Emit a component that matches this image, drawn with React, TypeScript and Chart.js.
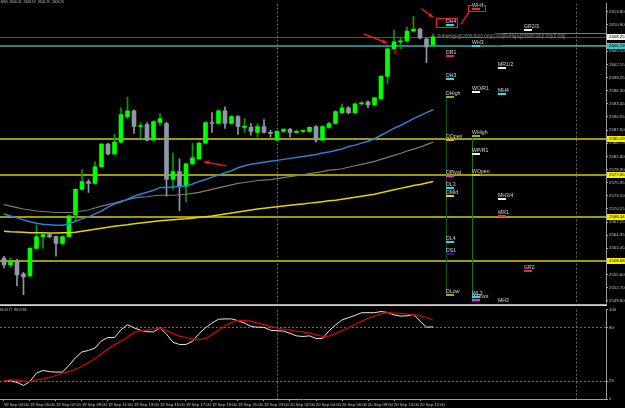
import { useEffect, useRef } from 'react';
import { Chart, registerables } from 'chart.js';

Chart.register(...registerables);

// ---------------- data ----------------
const SYMBOL_TITLE = ',M30  2606.41  2608.92  2606.25  2608.25';
const STOCH_TITLE = '80.6717  88.3783';

const TIME_LABELS = [
  '19 Sep 03:00', '19 Sep 05:00', '19 Sep 07:00', '19 Sep 09:00', '19 Sep 11:00', '19 Sep 13:00',
  '19 Sep 15:00', '19 Sep 17:00', '19 Sep 19:00', '19 Sep 21:00', '19 Sep 23:00', '20 Sep 02:00',
  '20 Sep 04:00', '20 Sep 06:00', '20 Sep 08:00', '20 Sep 10:00', '20 Sep 12:00',
];
const TIME_LABEL_BARS = [0, 4, 8, 12, 16, 20, 24, 28, 32, 36, 40, 44, 48, 52, 56, 60, 64];
const DAY_SEPARATOR_BARS = [42, 88];

const OPEN = [
  2559.27, 2557.75, 2558.62, 2555.79, 2555.35, 2561.44, 2564.05, 2564.49, 2564.05, 2562.53,
  2564.05, 2568.84, 2574.49, 2576.23, 2575.80, 2579.50, 2584.50, 2582.32, 2584.93, 2590.59,
  2591.89, 2588.41, 2588.85, 2585.37, 2589.28, 2589.07, 2576.67, 2578.41, 2575.15, 2580.15,
  2581.24, 2584.72, 2589.28, 2589.07, 2591.89, 2589.07, 2590.59, 2588.20, 2588.20, 2587.11,
  2588.41, 2587.11, 2585.37, 2587.33, 2587.76, 2587.11, 2587.33, 2587.33, 2588.41, 2585.37,
  2588.20, 2589.07, 2591.46, 2592.55, 2591.46, 2593.42, 2593.85, 2593.20, 2594.50, 2599.51,
  2605.60, 2607.12, 2607.34, 2609.51, 2609.95, 2607.77, 2606.41,
];
const HIGH = [
  2559.70, 2559.27, 2559.05, 2556.20, 2561.60, 2566.66, 2564.60, 2564.70, 2564.20, 2564.20,
  2568.80, 2574.60, 2578.84, 2576.67, 2580.58, 2584.70, 2584.70, 2586.67, 2592.55, 2594.94,
  2592.10, 2589.28, 2589.28, 2589.70, 2591.24, 2589.30, 2582.54, 2581.24, 2580.30, 2584.72,
  2584.90, 2589.50, 2591.46, 2592.10, 2592.76, 2590.80, 2590.80, 2590.15, 2589.07, 2589.07,
  2589.94, 2587.55, 2587.50, 2588.00, 2588.00, 2587.60, 2587.60, 2588.40, 2588.60, 2588.60,
  2589.30, 2591.90, 2593.40, 2592.80, 2593.60, 2593.90, 2594.10, 2594.90, 2599.70, 2605.80,
  2609.73, 2608.20, 2610.38, 2612.78, 2610.20, 2608.00, 2608.92,
];
const LOW = [
  2557.09, 2557.30, 2553.18, 2551.22, 2555.20, 2561.30, 2561.44, 2563.80, 2559.70, 2562.20,
  2563.90, 2567.53, 2574.30, 2573.84, 2575.60, 2579.30, 2582.10, 2582.10, 2584.70, 2590.15,
  2586.89, 2585.80, 2585.20, 2585.20, 2588.63, 2572.97, 2574.49, 2569.71, 2571.67, 2580.00,
  2581.10, 2584.50, 2587.11, 2588.90, 2587.98, 2588.90, 2586.67, 2587.11, 2586.46, 2586.02,
  2586.90, 2586.02, 2585.20, 2587.10, 2586.02, 2586.90, 2587.10, 2587.10, 2584.93, 2585.20,
  2588.00, 2588.90, 2591.30, 2591.20, 2591.20, 2593.20, 2592.55, 2593.00, 2594.30, 2597.77,
  2605.40, 2605.60, 2607.10, 2609.30, 2607.80, 2602.55, 2606.25,
];
const CLOSE = [
  2557.75, 2558.62, 2555.57, 2555.14, 2561.44, 2564.05, 2564.49, 2564.05, 2562.53, 2564.05,
  2568.62, 2574.49, 2576.23, 2575.80, 2579.50, 2584.50, 2582.32, 2584.93, 2591.02, 2591.89,
  2588.41, 2588.63, 2585.37, 2589.50, 2590.15, 2576.67, 2578.41, 2575.15, 2580.15, 2581.45,
  2584.72, 2589.28, 2589.07, 2591.89, 2589.07, 2590.59, 2588.41, 2588.41, 2587.33, 2588.41,
  2587.11, 2586.89, 2587.33, 2587.76, 2587.11, 2587.33, 2587.40, 2588.20, 2585.37, 2588.41,
  2589.07, 2591.68, 2592.55, 2591.46, 2593.42, 2593.63, 2593.20, 2594.72, 2599.51, 2605.60,
  2607.12, 2607.34, 2609.51, 2609.95, 2607.99, 2606.03, 2608.25,
];

const MA_BLUE = [
  2569.06, 2568.62, 2568.19, 2567.75, 2567.32, 2566.99, 2566.77, 2566.66, 2566.56, 2566.56,
  2566.88, 2567.43, 2567.97, 2568.40, 2569.06, 2569.71, 2570.58, 2571.23, 2571.67, 2572.32,
  2572.97, 2573.41, 2573.84, 2574.28, 2574.93, 2574.93, 2575.04, 2575.15, 2575.26, 2575.69,
  2576.23, 2576.67, 2577.21, 2577.65, 2578.19, 2578.63, 2579.28, 2579.72, 2580.04, 2580.26,
  2580.48, 2580.69, 2580.91, 2581.13, 2581.35, 2581.56, 2581.78, 2582.00, 2582.22, 2582.54,
  2582.76, 2583.09, 2583.41, 2583.96, 2584.28, 2584.72, 2585.15, 2585.70, 2586.46, 2587.22,
  2587.98, 2588.63, 2589.39, 2590.15, 2590.81, 2591.46, 2592.11,
];
const MA_GRAY = [
  2571.12, 2570.80, 2570.47, 2570.15, 2569.93, 2569.71, 2569.60, 2569.49, 2569.38, 2569.38,
  2569.38, 2569.49, 2569.71, 2569.93, 2570.36, 2570.80, 2571.12, 2571.45, 2571.89, 2572.21,
  2572.54, 2572.76, 2572.86, 2573.08, 2573.19, 2573.19, 2573.19, 2573.30, 2573.41, 2573.62,
  2573.84, 2574.17, 2574.49, 2574.82, 2575.15, 2575.47, 2575.80, 2576.02, 2576.23, 2576.45,
  2576.56, 2576.67, 2576.89, 2577.11, 2577.32, 2577.54, 2577.76, 2577.98, 2578.19, 2578.41,
  2578.74, 2578.84, 2579.06, 2579.39, 2579.72, 2580.04, 2580.37, 2580.69, 2581.13, 2581.56,
  2582.00, 2582.43, 2582.98, 2583.41, 2583.85, 2584.39, 2584.94,
];
const MA_YELLOW = [
  2565.25, 2565.14, 2565.08, 2565.01, 2564.92, 2564.92, 2564.88, 2564.86, 2564.86, 2564.88,
  2564.92, 2565.03, 2565.25, 2565.47, 2565.69, 2565.90, 2566.12, 2566.34, 2566.49, 2566.66,
  2566.88, 2567.03, 2567.21, 2567.38, 2567.53, 2567.64, 2567.75, 2567.86, 2567.97, 2568.12,
  2568.30, 2568.45, 2568.62, 2568.84, 2569.06, 2569.27, 2569.49, 2569.71, 2569.93, 2570.15,
  2570.32, 2570.47, 2570.64, 2570.80, 2570.97, 2571.12, 2571.28, 2571.45, 2571.60, 2571.78,
  2571.95, 2572.10, 2572.32, 2572.54, 2572.76, 2572.97, 2573.19, 2573.41, 2573.73, 2574.06,
  2574.39, 2574.71, 2575.04, 2575.37, 2575.58, 2575.91, 2576.23,
];

const STOCH_MAIN = [
  20.4, 20.4, 18.6, 15.1, 19.7, 29.0, 31.9, 30.6, 30.1, 30.1,
  37.6, 46.2, 52.7, 54.3, 57.0, 65.1, 68.8, 68.8, 77.4, 83.1,
  79.6, 76.9, 75.3, 75.0, 79.6, 72.6, 63.4, 61.0, 61.0, 64.5,
  73.1, 79.6, 84.9, 89.2, 89.5, 89.6, 87.6, 84.9, 81.2, 80.3,
  80.1, 76.9, 76.3, 76.0, 73.4, 70.6, 69.9, 70.6, 67.7, 67.7,
  76.3, 82.8, 88.5, 90.9, 93.5, 96.5, 96.5, 96.5, 97.8, 96.8,
  94.1, 92.7, 93.0, 94.6, 87.1, 80.3, 80.67,
];
const STOCH_SIGNAL = [
  20.4, 21.5, 21.0, 19.9, 19.4, 21.5, 22.6, 24.2, 26.3, 28.5,
  30.6, 33.3, 36.6, 40.9, 45.2, 50.5, 55.9, 60.8, 64.5, 69.4,
  74.2, 76.3, 77.4, 78.3, 79.0, 76.9, 73.1, 70.4, 68.8, 67.2,
  66.3, 67.7, 72.0, 76.9, 81.7, 85.5, 87.6, 87.6, 87.1, 84.9,
  83.1, 81.2, 79.6, 78.0, 77.1, 75.8, 75.0, 73.7, 72.0, 69.9,
  70.4, 73.1, 76.3, 79.6, 83.3, 86.8, 90.3, 92.8, 95.2, 96.5,
  96.2, 95.7, 95.2, 94.1, 93.0, 91.1, 88.38,
];

const PRICE_TICKS = [
  2613.80, 2610.90, 2608.00, 2605.10, 2602.15, 2599.25, 2596.30, 2593.45, 2590.55, 2587.60,
  2584.70, 2581.80, 2578.90, 2575.95, 2573.10, 2570.15, 2567.25, 2564.35, 2561.45, 2558.55,
  2555.60, 2552.70, 2549.80,
];
const STOCH_TICKS = [0, 20, 80, 100];
const STOCH_LEVELS = [20, 80];

const BID_PRICE = 2608.25;
const WEEK_LEVEL = 2606.19;
const YELLOW_LEVELS = [2585.59, 2577.65, 2568.34, 2558.68];
const ORANGE_LEVELS = [2609.08, 2606.47];
const ORANGE_START_BAR = 75.6;

const TAG_NAMES = [
  'WH4', 'DH4', 'GR2/3', 'WH3', 'DR1', 'MR1/2', 'DH3', 'WO/R1', 'MH4', 'DHigh',
  'WHigh', 'DOpen', 'WP/R1', 'DPivot', 'WOpen', 'DL3', 'DMid', 'MH3/4', 'MR1', 'DL4',
  'DS1', 'GR2', 'DLow', 'WPivot', 'WL3', 'MH3',
];
const TAG_BARS = [
  72, 68, 80, 72, 68, 76, 68, 72, 76, 68,
  72, 68, 72, 68, 72, 68, 68, 76, 76, 68,
  68, 80, 68, 72, 72, 76,
];
const TAG_PRICES = [
  2614.41, 2610.82, 2609.84, 2606.14, 2604.07, 2601.36, 2598.86, 2596.03, 2595.59, 2594.94,
  2586.24, 2585.37, 2582.22, 2577.54, 2577.65, 2574.82, 2572.97, 2572.32, 2568.62, 2562.75,
  2560.25, 2556.44, 2551.12, 2550.03, 2550.57, 2549.20,
];
const TAG_COLORS = [
  '#ff2020', '#20e0f0', '#f0f0f0', '#20e0f0', '#ff2020', '#f0f0f0', '#20e0f0', '#f0f0f0', '#20e0f0', '#8fb030',
  '#8fb030', '#f0b000', '#f0f0f0', '#ff20ff', '#f0b000', '#20e0f0', '#f0e000', '#f0f0f0', '#ff3010', '#20e0f0',
  '#1020b0', '#ff2020', '#8fb030', '#ff20ff', '#20e0f0', 'rgba(0,0,0,0)',
];

// day/week range verticals: bar, top price, bottom price
const RANGE_BARS = [68, 72];
const RANGE_TOPS = [2594.94, 2586.24];
const RANGE_BOTTOMS = [2551.12, 2549.48];

// annotation arrows (bar, price) -> (bar, price)
const ARROW_FROM_BAR = [55.4, 34.2, 64.2];
const ARROW_FROM_PRICE = [2608.86, 2579.71, 2614.5];
const ARROW_TO_BAR = [58.9, 30.8, 66.0];
const ARROW_TO_PRICE = [2606.90, 2580.58, 2612.56];
// boxes (bar range, price range)
const BOX_BAR_A = [66.5, 71.4];
const BOX_BAR_B = [69.7, 74.0];
const BOX_PRICE_A = [2612.34, 2615.38];
const BOX_PRICE_B = [2610.38, 2613.86];

const BAR_MIN = -0.615;
const BAR_MAX = 92.615;
const PRICE_MIN = 2549.48;
const PRICE_MAX = 2615.60;

const FONT = '"Liberation Sans", Arial, sans-serif';

// ---------------- helpers ----------------
function arrowHead(ctx: CanvasRenderingContext2D, x0: number, y0: number, x1: number, y1: number) {
  const ang = Math.atan2(y1 - y0, x1 - x0);
  const len = 5;
  ctx.beginPath();
  ctx.moveTo(x1, y1);
  ctx.lineTo(x1 - len * Math.cos(ang - 0.45), y1 - len * Math.sin(ang - 0.45));
  ctx.lineTo(x1 - len * Math.cos(ang + 0.45), y1 - len * Math.sin(ang + 0.45));
  ctx.closePath();
  ctx.fill();
}

function priceBox(ctx: CanvasRenderingContext2D, yPix: number, bg: string, text: string, left: number) {
  ctx.fillStyle = bg;
  ctx.fillRect(left + 1, Math.round(yPix) - 3, 18, 6);
  ctx.fillStyle = '#000000';
  ctx.font = `4.3px ${FONT}`;
  ctx.textBaseline = 'middle';
  ctx.textAlign = 'left';
  ctx.fillText(text, left + 3, Math.round(yPix));
}

const mainOverlay = {
  id: 'mainOverlay',
  beforeDraw(chart: any) {
    const ctx = chart.ctx as CanvasRenderingContext2D;
    ctx.save();
    ctx.fillStyle = '#000000';
    ctx.fillRect(0, 0, chart.width, chart.height);
    ctx.restore();
  },
  beforeDatasetsDraw(chart: any) {
    const ctx = chart.ctx as CanvasRenderingContext2D;
    const a = chart.chartArea;
    const x = chart.scales.x;
    const y = chart.scales.y;
    ctx.save();
    ctx.beginPath();
    ctx.rect(a.left, a.top, a.right - a.left, a.bottom - a.top);
    ctx.clip();

    // day separators
    ctx.strokeStyle = '#6a6a6a';
    ctx.lineWidth = 1;
    ctx.setLineDash([2, 2]);
    DAY_SEPARATOR_BARS.forEach((b) => {
      const px = Math.round(x.getPixelForValue(b)) + 0.5;
      ctx.beginPath();
      ctx.moveTo(px, a.top);
      ctx.lineTo(px, a.bottom);
      ctx.stroke();
    });
    ctx.setLineDash([]);

    // yellow levels
    ctx.strokeStyle = '#a09c00';
    ctx.lineWidth = 2;
    YELLOW_LEVELS.forEach((p) => {
      const py = Math.round(y.getPixelForValue(p));
      ctx.beginPath();
      ctx.moveTo(a.left, py);
      ctx.lineTo(a.right, py);
      ctx.stroke();
    });

    // bid line
    ctx.strokeStyle = '#4c5260';
    ctx.lineWidth = 1;
    let py = Math.round(y.getPixelForValue(BID_PRICE)) + 0.5;
    ctx.beginPath();
    ctx.moveTo(a.left, py);
    ctx.lineTo(a.right, py);
    ctx.stroke();

    // weekly teal line
    ctx.strokeStyle = '#1f8585';
    ctx.lineWidth = 2;
    py = Math.round(y.getPixelForValue(WEEK_LEVEL));
    ctx.beginPath();
    ctx.moveTo(a.left, py);
    ctx.lineTo(a.right, py);
    ctx.stroke();

    // orange partial levels
    const ox = x.getPixelForValue(ORANGE_START_BAR);
    ORANGE_LEVELS.forEach((p) => {
      const yy = Math.round(y.getPixelForValue(p)) + 0.5;
      ctx.strokeStyle = '#c0691e';
      ctx.lineWidth = 1;
      ctx.beginPath();
      ctx.moveTo(ox, yy);
      ctx.lineTo(a.right, yy);
      ctx.stroke();
      ctx.strokeStyle = '#7a2ea8';
      ctx.beginPath();
      ctx.moveTo(ox, yy);
      ctx.lineTo(ox + 6, yy);
      ctx.stroke();
    });

    // range verticals
    RANGE_BARS.forEach((b, k) => {
      const px = Math.round(x.getPixelForValue(b)) + 0.5;
      ctx.strokeStyle = k === 0 ? '#0a5a0a' : '#0f7a0f';
      ctx.lineWidth = 1;
      ctx.beginPath();
      ctx.moveTo(px, y.getPixelForValue(RANGE_TOPS[k]));
      ctx.lineTo(px, y.getPixelForValue(RANGE_BOTTOMS[k]));
      ctx.stroke();
    });
    ctx.restore();
  },
  afterDraw(chart: any) {
    const ctx = chart.ctx as CanvasRenderingContext2D;
    const a = chart.chartArea;
    const x = chart.scales.x;
    const y = chart.scales.y;
    ctx.save();

    // level tags
    ctx.font = `5.2px ${FONT}`;
    ctx.textAlign = 'left';
    ctx.textBaseline = 'bottom';
    TAG_NAMES.forEach((t, k) => {
      const px = Math.round(x.getPixelForValue(TAG_BARS[k]));
      const yy = Math.round(y.getPixelForValue(TAG_PRICES[k]));
      ctx.fillStyle = TAG_COLORS[k];
      ctx.fillRect(px, yy - 1, 8, 2);
      ctx.fillStyle = '#d4d4d4';
      ctx.fillText(t, px, yy - 1);
    });

    // long info text
    ctx.fillStyle = '#8c8c8c';
    ctx.font = `4.6px ${FONT}`;
    ctx.textBaseline = 'middle';
    ctx.fillText('FriFriHigh@2608.92(0.00)(0.00)|FriHigh@2608.92(0.00)(0.00)|',
      x.getPixelForValue(66.7), y.getPixelForValue(2608.35));

    // arrows
    ctx.strokeStyle = '#ff1a1a';
    ctx.fillStyle = '#ff1a1a';
    ctx.lineWidth = 1.3;
    ARROW_FROM_BAR.forEach((b, k) => {
      const x0 = x.getPixelForValue(b);
      const y0 = y.getPixelForValue(ARROW_FROM_PRICE[k]);
      const x1 = x.getPixelForValue(ARROW_TO_BAR[k]);
      const y1 = y.getPixelForValue(ARROW_TO_PRICE[k]);
      ctx.beginPath();
      ctx.moveTo(x0, y0);
      ctx.lineTo(x1, y1);
      ctx.stroke();
      arrowHead(ctx, x0, y0, x1, y1);
    });
    // link line from WH4 box
    ctx.beginPath();
    ctx.moveTo(x.getPixelForValue(70.3), y.getPixelForValue(2611.03));
    ctx.lineTo(x.getPixelForValue(71.6), y.getPixelForValue(2613.86));
    ctx.stroke();

    // boxes
    ctx.lineWidth = 1;
    BOX_BAR_A.forEach((b, k) => {
      const x0 = Math.round(x.getPixelForValue(b)) + 0.5;
      const x1 = Math.round(x.getPixelForValue(BOX_BAR_B[k])) + 0.5;
      const y0 = Math.round(y.getPixelForValue(BOX_PRICE_A[k])) + 0.5;
      const y1 = Math.round(y.getPixelForValue(BOX_PRICE_B[k])) + 0.5;
      ctx.strokeRect(x0, y0, x1 - x0, y1 - y0);
    });

    // small markers
    ctx.font = `bold 6px ${FONT}`;
    ctx.fillStyle = '#e01010';
    ctx.textAlign = 'center';
    ctx.textBaseline = 'middle';
    ctx.fillText('X', x.getPixelForValue(60.2), y.getPixelForValue(2604.9));
    ctx.fillText('7', x.getPixelForValue(62.9), y.getPixelForValue(2611.6));

    // title
    ctx.textAlign = 'left';
    ctx.textBaseline = 'top';
    ctx.fillStyle = '#bfbfbf';
    ctx.font = `3.4px ${FONT}`;
    ctx.fillText(SYMBOL_TITLE, 0, 0.5);

    // right price boxes
    const right = a.right;
    YELLOW_LEVELS.forEach((p) => priceBox(ctx, y.getPixelForValue(p), '#f4f000', p.toFixed(2), right));
    priceBox(ctx, y.getPixelForValue(WEEK_LEVEL), '#3cc4c4', WEEK_LEVEL.toFixed(2), right);
    priceBox(ctx, y.getPixelForValue(BID_PRICE), '#f4f4f4', BID_PRICE.toFixed(2), right);

    // panel separator
    ctx.fillStyle = '#a8a8a8';
    ctx.fillRect(0, chart.height - 2, right + 1, 1);
    ctx.fillStyle = '#d0d0d0';
    ctx.fillRect(0, chart.height - 1, right + 1, 1);
    ctx.restore();
  },
};

const stochOverlay = {
  id: 'stochOverlay',
  beforeDraw(chart: any) {
    const ctx = chart.ctx as CanvasRenderingContext2D;
    ctx.save();
    ctx.fillStyle = '#000000';
    ctx.fillRect(0, 0, chart.width, chart.height);
    ctx.restore();
  },
  beforeDatasetsDraw(chart: any) {
    const ctx = chart.ctx as CanvasRenderingContext2D;
    const a = chart.chartArea;
    const x = chart.scales.x;
    const y = chart.scales.y;
    ctx.save();
    ctx.strokeStyle = '#6a6a6a';
    ctx.lineWidth = 1;
    ctx.setLineDash([2, 2]);
    STOCH_LEVELS.forEach((v) => {
      const py = Math.round(y.getPixelForValue(v)) + 0.5;
      ctx.beginPath();
      ctx.moveTo(a.left, py);
      ctx.lineTo(a.right, py);
      ctx.stroke();
    });
    DAY_SEPARATOR_BARS.forEach((b) => {
      const px = Math.round(x.getPixelForValue(b)) + 0.5;
      ctx.beginPath();
      ctx.moveTo(px, a.top);
      ctx.lineTo(px, a.bottom);
      ctx.stroke();
    });
    ctx.restore();
  },
  afterDraw(chart: any) {
    const ctx = chart.ctx as CanvasRenderingContext2D;
    ctx.save();
    ctx.fillStyle = '#bfbfbf';
    ctx.font = `3.4px ${FONT}`;
    ctx.textBaseline = 'top';
    ctx.fillText(STOCH_TITLE, 0, 2.5);
    ctx.restore();
  },
};

export default function App() {
  const mainRef = useRef<HTMLCanvasElement | null>(null);
  const stochRef = useRef<HTMLCanvasElement | null>(null);

  useEffect(() => {
    const bars = OPEN.map((_, i) => i);
    const bull = bars.map((i) => CLOSE[i] >= OPEN[i]);

    const main = new Chart(mainRef.current as HTMLCanvasElement, {
      type: 'bar',
      data: {
        datasets: [
          {
            type: 'line',
            data: bars.map((i) => ({ x: i, y: MA_BLUE[i] })),
            borderColor: '#2a80d8',
            borderWidth: 1.5,
            pointRadius: 0,
            order: 0,
          } as any,
          {
            type: 'line',
            data: bars.map((i) => ({ x: i, y: MA_GRAY[i] })),
            borderColor: '#7c7c7c',
            borderWidth: 1.2,
            pointRadius: 0,
            order: 0,
          } as any,
          {
            type: 'line',
            data: bars.map((i) => ({ x: i, y: MA_YELLOW[i] })),
            borderColor: '#e6d400',
            borderWidth: 1.5,
            pointRadius: 0,
            order: 0,
          } as any,
          {
            type: 'bar',
            data: bars.map((i) => ({ x: i, y: [OPEN[i], CLOSE[i]] })),
            backgroundColor: bars.map((i) => (bull[i] ? '#00ff00' : '#8e99a6')),
            borderWidth: 0,
            barThickness: 4,
            minBarLength: 1,
            grouped: false,
            order: 1,
          } as any,
          {
            type: 'bar',
            data: bars.map((i) => ({ x: i, y: [LOW[i], HIGH[i]] })),
            backgroundColor: bars.map((i) => (bull[i] ? '#00a000' : '#8e99a6')),
            borderWidth: 0,
            barThickness: 1,
            grouped: false,
            order: 2,
          } as any,
        ],
      },
      options: {
        animation: false,
        responsive: false,
        maintainAspectRatio: false,
        layout: { padding: { top: 1, bottom: 1, left: 0, right: 0 } },
        plugins: { legend: { display: false }, tooltip: { enabled: false } },
        scales: {
          x: {
            type: 'linear',
            min: BAR_MIN,
            max: BAR_MAX,
            display: false,
            bounds: 'data',
            offset: false,
            grid: { offset: false },
          },
          y: {
            type: 'linear',
            position: 'right',
            min: PRICE_MIN,
            max: PRICE_MAX,
            bounds: 'data',
            afterBuildTicks: (s: any) => {
              s.ticks = PRICE_TICKS.map((v) => ({ value: v }));
            },
            afterFit: (s: any) => {
              s.width = 19;
            },
            ticks: {
              color: '#c4c4c4',
              font: { size: 4.3, family: FONT },
              padding: 1,
              callback: (v: any) => Number(v).toFixed(2),
            },
            grid: { drawOnChartArea: false, color: '#a0a0a0', tickLength: 2 },
            border: { color: '#a0a0a0' },
          },
        },
      } as any,
      plugins: [mainOverlay],
    });

    const stoch = new Chart(stochRef.current as HTMLCanvasElement, {
      type: 'line',
      data: {
        datasets: [
          {
            data: bars.map((i) => ({ x: i, y: STOCH_SIGNAL[i] })),
            borderColor: '#e00000',
            borderWidth: 1.2,
            pointRadius: 0,
          },
          {
            data: bars.map((i) => ({ x: i, y: STOCH_MAIN[i] })),
            borderColor: '#e8e8e8',
            borderWidth: 1,
            pointRadius: 0,
          },
        ],
      },
      options: {
        animation: false,
        responsive: false,
        maintainAspectRatio: false,
        layout: { padding: 0 },
        plugins: { legend: { display: false }, tooltip: { enabled: false } },
        scales: {
          x: {
            type: 'linear',
            min: BAR_MIN,
            max: BAR_MAX,
            bounds: 'data',
            offset: false,
            afterBuildTicks: (s: any) => {
              s.ticks = TIME_LABEL_BARS.map((v) => ({ value: v }));
            },
            afterFit: (s: any) => {
              s.height = 9;
            },
            ticks: {
              color: '#c4c4c4',
              font: { size: 4.2, family: FONT },
              align: 'start',
              maxRotation: 0,
              autoSkip: false,
              padding: 1,
              callback: (v: any) => {
                const k = TIME_LABEL_BARS.indexOf(Number(v));
                return k >= 0 ? TIME_LABELS[k] : '';
              },
            },
            grid: { drawOnChartArea: false, color: '#a0a0a0', tickLength: 2 },
            border: { color: '#a0a0a0' },
          },
          y: {
            type: 'linear',
            position: 'right',
            min: 0,
            max: 100,
            afterBuildTicks: (s: any) => {
              s.ticks = STOCH_TICKS.map((v) => ({ value: v }));
            },
            afterFit: (s: any) => {
              s.width = 19;
            },
            ticks: {
              color: '#c4c4c4',
              font: { size: 4.3, family: FONT },
              padding: 1,
            },
            grid: { drawOnChartArea: false, color: '#a0a0a0', tickLength: 2 },
            border: { color: '#a0a0a0' },
          },
        },
      } as any,
      plugins: [stochOverlay],
    });

    return () => {
      main.destroy();
      stoch.destroy();
    };
  }, []);

  return (
    <div style={{ position: 'fixed', left: 0, top: 0, width: 625, height: 408, background: '#000', overflow: 'hidden' }}>
      <canvas ref={mainRef} width={625} height={306} style={{ position: 'absolute', left: 0, top: 0, width: 625, height: 306 }} />
      <canvas ref={stochRef} width={625} height={102} style={{ position: 'absolute', left: 0, top: 306, width: 625, height: 102 }} />
    </div>
  );
}
